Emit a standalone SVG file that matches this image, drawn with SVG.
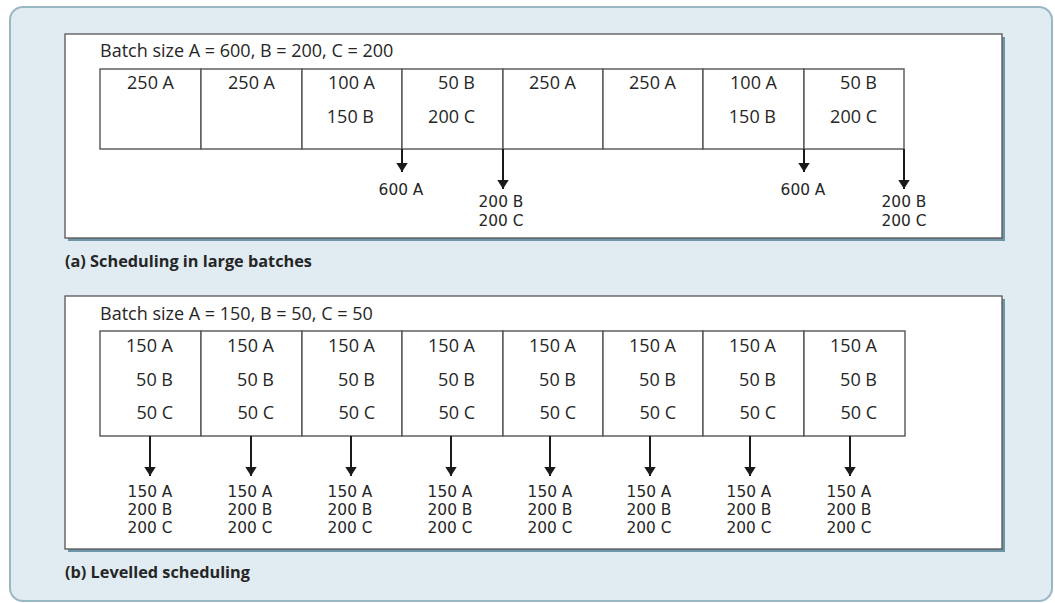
<svg xmlns="http://www.w3.org/2000/svg" width="1055" height="603" viewBox="0 0 1055 603">
<defs>
<style>
text{font-family:"Open Sans","Noto Sans","Liberation Sans",sans-serif;font-size:18px;fill:#262626}
.r{text-anchor:end}
.c{text-anchor:middle}
.lbl{font-family:"DejaVu Sans","Liberation Sans",sans-serif;font-size:15.4px;text-anchor:middle}
.cap{font-weight:bold;font-size:16.3px}
.cell{fill:#fff;stroke:#555;stroke-width:1.4}
.arr{stroke:#1a1a1a;stroke-width:2;fill:none}
.panel{fill:#fff;stroke:#555;stroke-width:1.3}
.shadow{fill:#6f95a8}
</style>
<marker id="ah" markerWidth="10" markerHeight="12" refX="9.5" refY="6" orient="auto" markerUnits="userSpaceOnUse" viewBox="0 0 10 12">
<path d="M0,0 L9.5,6 L0,12 Z" fill="#1a1a1a"/>
</marker>
</defs>
<rect x="10" y="7" width="1042" height="594" rx="13" fill="#e1ecf2" stroke="#9ab7c6" stroke-width="2"/>

<g id="panel-a">
<rect class="shadow" x="68" y="37" width="937" height="204"/>
<rect class="panel" x="65" y="34" width="937" height="204"/>
<text x="100" y="57">Batch size A = 600, B = 200, C = 200</text>
</g>
<g id="row-a">
<g id="a1"><rect class="cell" x="100" y="69" width="101" height="80"/><text class="r" x="174" y="89">250 A</text></g>
<g id="a2"><rect class="cell" x="201" y="69" width="101" height="80"/><text class="r" x="275" y="89">250 A</text></g>
<g id="a3"><rect class="cell" x="302" y="69" width="100" height="80"/><text class="r" x="375" y="89">100 A</text><text class="r" x="374" y="123">150 B</text></g>
<g id="a4"><rect class="cell" x="402" y="69" width="101" height="80"/><text class="r" x="475" y="89">50 B</text><text class="r" x="475" y="123">200 C</text></g>
<g id="a5"><rect class="cell" x="503" y="69" width="100" height="80"/><text class="r" x="576" y="89">250 A</text></g>
<g id="a6"><rect class="cell" x="603" y="69" width="100" height="80"/><text class="r" x="676" y="89">250 A</text></g>
<g id="a7"><rect class="cell" x="703" y="69" width="101" height="80"/><text class="r" x="777" y="89">100 A</text><text class="r" x="776" y="123">150 B</text></g>
<g id="a8"><rect class="cell" x="804" y="69" width="100" height="80"/><text class="r" x="877" y="89">50 B</text><text class="r" x="877" y="123">200 C</text></g>
</g>
<g id="connectors-a">
<line class="arr" x1="402" y1="149" x2="402" y2="172" marker-end="url(#ah)"/>
<line class="arr" x1="503" y1="149" x2="503" y2="189" marker-end="url(#ah)"/>
<line class="arr" x1="804" y1="149" x2="804" y2="172" marker-end="url(#ah)"/>
<line class="arr" x1="904" y1="149" x2="904" y2="189" marker-end="url(#ah)"/>
</g>
<g id="labels-a">
<text class="lbl" x="401" y="195">600 A</text>
<text class="lbl" x="501" y="207">200 B</text>
<text class="lbl" x="501" y="226">200 C</text>
<text class="lbl" x="803" y="195">600 A</text>
<text class="lbl" x="904" y="207">200 B</text>
<text class="lbl" x="904" y="226">200 C</text>
</g>
<text class="cap" x="65" y="267">(a) Scheduling in large batches</text>

<g id="panel-b">
<rect class="shadow" x="68" y="299" width="937" height="253"/>
<rect class="panel" x="65" y="296" width="937" height="253"/>
<text x="100" y="320">Batch size A = 150, B = 50, C = 50</text>
</g>
<g id="row-b">
<g id="b1"><rect class="cell" x="100" y="331" width="101" height="105"/><text class="r" x="173" y="352">150 A</text><text class="r" x="173" y="386">50 B</text><text class="r" x="173" y="419">50 C</text></g>
<g id="b2"><rect class="cell" x="201" y="331" width="101" height="105"/><text class="r" x="274" y="352">150 A</text><text class="r" x="274" y="386">50 B</text><text class="r" x="274" y="419">50 C</text></g>
<g id="b3"><rect class="cell" x="302" y="331" width="100" height="105"/><text class="r" x="375" y="352">150 A</text><text class="r" x="375" y="386">50 B</text><text class="r" x="375" y="419">50 C</text></g>
<g id="b4"><rect class="cell" x="402" y="331" width="101" height="105"/><text class="r" x="475" y="352">150 A</text><text class="r" x="475" y="386">50 B</text><text class="r" x="475" y="419">50 C</text></g>
<g id="b5"><rect class="cell" x="503" y="331" width="100" height="105"/><text class="r" x="576" y="352">150 A</text><text class="r" x="576" y="386">50 B</text><text class="r" x="576" y="419">50 C</text></g>
<g id="b6"><rect class="cell" x="603" y="331" width="100" height="105"/><text class="r" x="676" y="352">150 A</text><text class="r" x="676" y="386">50 B</text><text class="r" x="676" y="419">50 C</text></g>
<g id="b7"><rect class="cell" x="703" y="331" width="101" height="105"/><text class="r" x="776" y="352">150 A</text><text class="r" x="776" y="386">50 B</text><text class="r" x="776" y="419">50 C</text></g>
<g id="b8"><rect class="cell" x="804" y="331" width="101" height="105"/><text class="r" x="877" y="352">150 A</text><text class="r" x="877" y="386">50 B</text><text class="r" x="877" y="419">50 C</text></g>
</g>
<g id="connectors-b">
<line class="arr" x1="150" y1="436" x2="150" y2="476" marker-end="url(#ah)"/>
<line class="arr" x1="251" y1="436" x2="251" y2="476" marker-end="url(#ah)"/>
<line class="arr" x1="351" y1="436" x2="351" y2="476" marker-end="url(#ah)"/>
<line class="arr" x1="451" y1="436" x2="451" y2="476" marker-end="url(#ah)"/>
<line class="arr" x1="550" y1="436" x2="550" y2="476" marker-end="url(#ah)"/>
<line class="arr" x1="650" y1="436" x2="650" y2="476" marker-end="url(#ah)"/>
<line class="arr" x1="750" y1="436" x2="750" y2="476" marker-end="url(#ah)"/>
<line class="arr" x1="850" y1="436" x2="850" y2="476" marker-end="url(#ah)"/>
</g>
<g id="labels-b">
<text class="lbl" x="150" y="497">150 A</text><text class="lbl" x="150" y="515">200 B</text><text class="lbl" x="150" y="533">200 C</text>
<text class="lbl" x="250" y="497">150 A</text><text class="lbl" x="250" y="515">200 B</text><text class="lbl" x="250" y="533">200 C</text>
<text class="lbl" x="350" y="497">150 A</text><text class="lbl" x="350" y="515">200 B</text><text class="lbl" x="350" y="533">200 C</text>
<text class="lbl" x="450" y="497">150 A</text><text class="lbl" x="450" y="515">200 B</text><text class="lbl" x="450" y="533">200 C</text>
<text class="lbl" x="550" y="497">150 A</text><text class="lbl" x="550" y="515">200 B</text><text class="lbl" x="550" y="533">200 C</text>
<text class="lbl" x="649" y="497">150 A</text><text class="lbl" x="649" y="515">200 B</text><text class="lbl" x="649" y="533">200 C</text>
<text class="lbl" x="749" y="497">150 A</text><text class="lbl" x="749" y="515">200 B</text><text class="lbl" x="749" y="533">200 C</text>
<text class="lbl" x="849" y="497">150 A</text><text class="lbl" x="849" y="515">200 B</text><text class="lbl" x="849" y="533">200 C</text>
</g>
<text class="cap" x="65" y="578">(b) Levelled scheduling</text>
</svg>
